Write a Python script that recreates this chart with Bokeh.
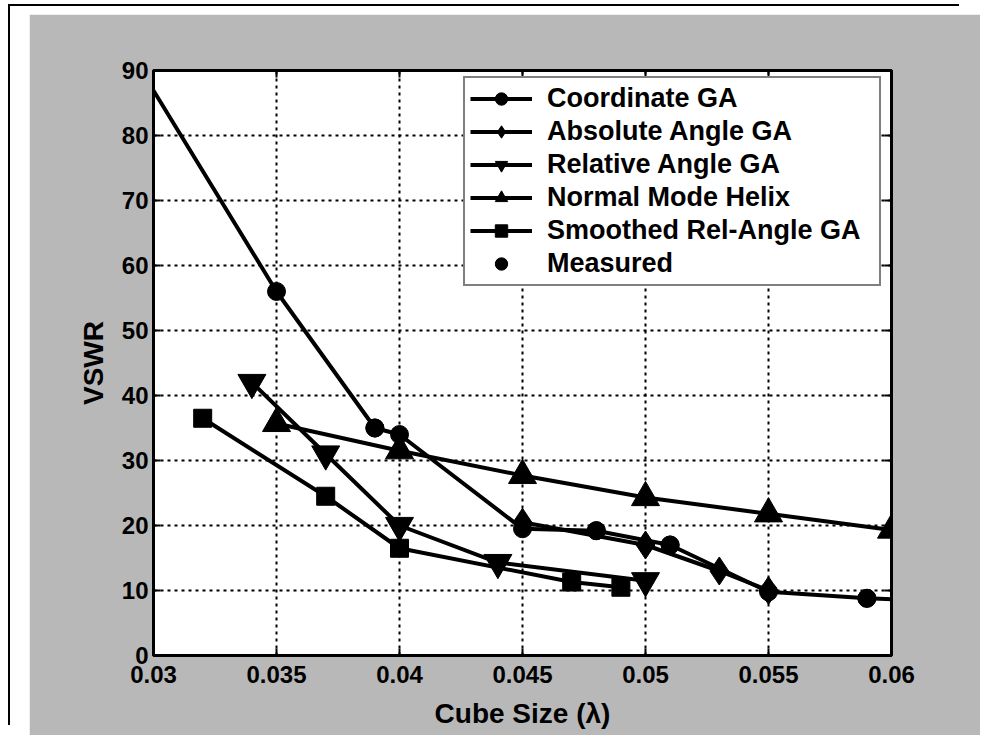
from bokeh.plotting import figure
from bokeh.models import (Range1d, FixedTicker, Legend, LegendItem, LinearAxis,
                          CustomJSTickFormatter)
from bokeh.embed import file_html
from bokeh.resources import INLINE

# ---- data ----
x_ticks = [0.03, 0.035, 0.04, 0.045, 0.05, 0.055, 0.06]
x_tick_labels = ["0.03", "0.035", "0.04", "0.045", "0.05", "0.055", "0.06"]
y_ticks = [0, 10, 20, 30, 40, 50, 60, 70, 80, 90]

coord_x = [0.0295, 0.035, 0.039, 0.040, 0.045, 0.048, 0.051, 0.055, 0.059, 0.061]
coord_y = [90.0, 56.0, 35.0, 34.0, 19.5, 19.2, 17.0, 9.8, 8.8, 8.5]

abs_x = [0.045, 0.050, 0.053, 0.055]
abs_y = [20.5, 17.0, 13.0, 10.0]

rel_x = [0.034, 0.037, 0.040, 0.044, 0.050]
rel_y = [42.0, 31.0, 20.0, 14.3, 11.5]

helix_x = [0.035, 0.040, 0.045, 0.050, 0.055, 0.060]
helix_y = [35.7, 31.5, 27.7, 24.3, 21.8, 19.3]

smooth_x = [0.032, 0.037, 0.040, 0.047, 0.049]
smooth_y = [36.5, 24.5, 16.5, 11.3, 10.5]

meas_x = [0.039, 0.048, 0.051, 0.059]
meas_y = [35.0, 19.2, 17.0, 8.8]

FONT = "Liberation Sans"

p = figure(width=951, height=721, output_backend="svg", toolbar_location=None,
           x_range=Range1d(0.03, 0.06), y_range=Range1d(0, 90),
           min_border_left=124, min_border_right=89,
           min_border_top=56, min_border_bottom=80)
p.border_fill_color = "#b8b8b8"
p.background_fill_color = "white"
p.outline_line_color = "black"
p.outline_line_width = 3
p.styles = {"margin-left": "29px", "margin-top": "14px",
            "box-shadow": "-19px -8px 0 0 white, -21px -10px 0 0 black"}

# axes
p.xaxis.ticker = FixedTicker(ticks=x_ticks)
p.xaxis.major_label_overrides = {t: l for t, l in zip(x_ticks, x_tick_labels)}
p.yaxis.ticker = FixedTicker(ticks=y_ticks)
p.xaxis.axis_label = "Cube Size (\u03bb)"
p.yaxis.axis_label = "VSWR"
for ax in (p.xaxis[0], p.yaxis[0]):
    ax.axis_line_color = "black"
    ax.axis_line_width = 3
    ax.major_tick_in = 7
    ax.major_tick_out = 0
    ax.major_tick_line_width = 2
    ax.minor_tick_line_color = None
    ax.major_label_text_font = FONT
    ax.major_label_text_font_style = "bold"
    ax.major_label_text_font_size = "24px"
    ax.major_label_text_color = "black"
    ax.axis_label_text_font = FONT
    ax.axis_label_text_font_style = "bold"
    ax.axis_label_text_font_size = "28px"
    ax.axis_label_text_color = "black"
p.xaxis.major_label_standoff = 10
p.yaxis.major_label_standoff = 5
p.xaxis.axis_label_standoff = 12
p.yaxis.axis_label_standoff = 10

blank = CustomJSTickFormatter(code="return ''")
top_ax = LinearAxis(ticker=FixedTicker(ticks=x_ticks), formatter=blank,
                    major_tick_in=7, major_tick_out=0, major_tick_line_width=2,
                    minor_tick_line_color=None, axis_line_width=3)
right_ax = LinearAxis(ticker=FixedTicker(ticks=y_ticks), formatter=blank,
                      major_tick_in=7, major_tick_out=0, major_tick_line_width=2,
                      minor_tick_line_color=None, axis_line_width=3)
p.add_layout(top_ax, "above")
p.add_layout(right_ax, "right")

# grid
for g in (p.xgrid[0], p.ygrid[0]):
    g.grid_line_color = "black"
    g.grid_line_width = 2
    g.grid_line_dash = "3 4"
p.xgrid.ticker = FixedTicker(ticks=x_ticks)
p.ygrid.ticker = FixedTicker(ticks=y_ticks)

LW = 4
items = []

l1 = p.line(coord_x, coord_y, line_color="black", line_width=LW)
m1 = p.scatter(coord_x, coord_y, marker="circle", size=18, color="black")
items.append(LegendItem(label="Coordinate GA", renderers=[l1, m1]))

l2 = p.line(abs_x, abs_y, line_color="black", line_width=LW)
m2 = p.scatter(abs_x, abs_y, marker="diamond", size=28, color="black")
items.append(LegendItem(label="Absolute Angle GA", renderers=[l2, m2]))

l3 = p.line(rel_x, rel_y, line_color="black", line_width=LW)
m3 = p.scatter(rel_x, rel_y, marker="inverted_triangle", size=28, color="black")
items.append(LegendItem(label="Relative Angle GA", renderers=[l3, m3]))

l4 = p.line(helix_x, helix_y, line_color="black", line_width=LW)
m4 = p.scatter(helix_x, helix_y, marker="triangle", size=28, color="black")
items.append(LegendItem(label="Normal Mode Helix", renderers=[l4, m4]))

l5 = p.line(smooth_x, smooth_y, line_color="black", line_width=LW)
m5 = p.scatter(smooth_x, smooth_y, marker="square", size=18, color="black")
items.append(LegendItem(label="Smoothed Rel-Angle GA", renderers=[l5, m5]))

m6 = p.scatter(meas_x, meas_y, marker="circle", size=18, color="black")
items.append(LegendItem(label="Measured", renderers=[m6]))

legend = Legend(items=items, location=(310, 369))
legend.border_line_color = "black"
legend.border_line_width = 2
legend.background_fill_color = "white"
legend.background_fill_alpha = 1.0
legend.label_text_font = FONT
legend.label_text_font_style = "bold"
legend.label_text_font_size = "27px"
legend.label_text_color = "black"
legend.glyph_width = 62
legend.glyph_height = 31
legend.label_height = 31
legend.label_width = 327
legend.spacing = 2
legend.padding = 5
legend.margin = 0
legend.label_standoff = 15
p.add_layout(legend, "center")

open("out.html", "w").write(file_html(p, INLINE))
